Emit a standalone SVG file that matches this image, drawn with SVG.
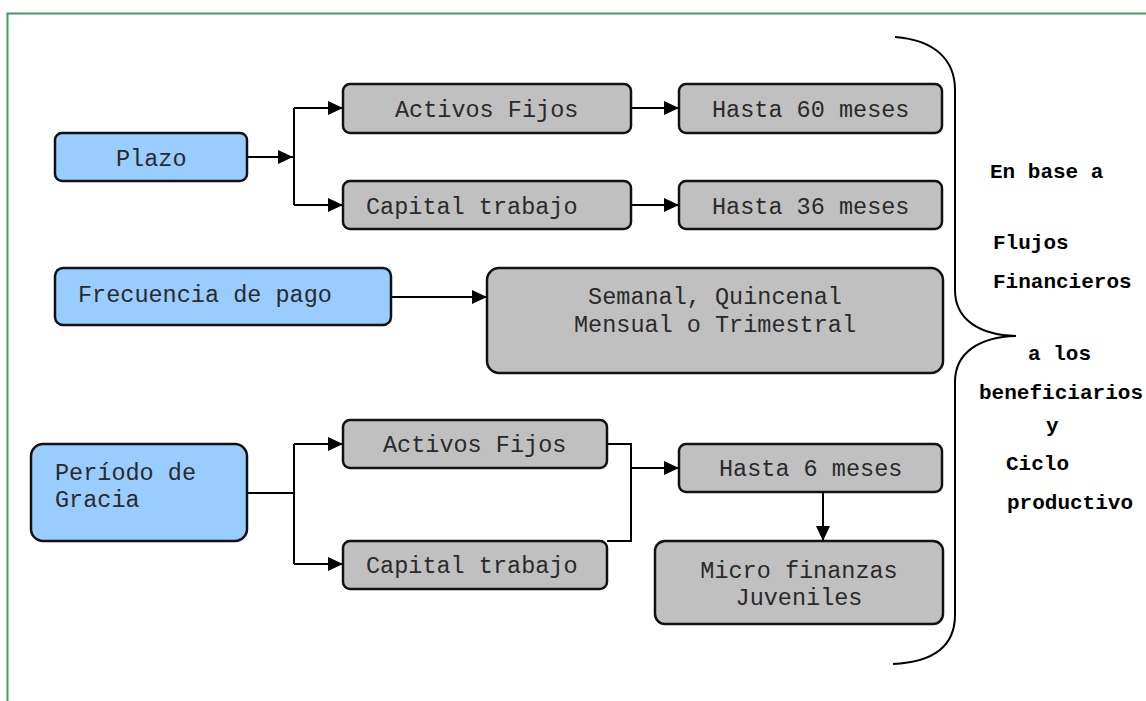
<svg xmlns="http://www.w3.org/2000/svg" width="1146" height="701" viewBox="0 0 1146 701">
<defs>
<marker id="ah" markerUnits="userSpaceOnUse" markerWidth="16" markerHeight="14" refX="15" refY="7" orient="auto">
<path d="M0,0 L15,7 L0,14 Z" fill="#000"/>
</marker>
<style>
.b{fill:#99ccff;stroke:#111;stroke-width:2.5}
.g{fill:#c0c0c0;stroke:#111;stroke-width:2.5}
.t{font-family:"Liberation Mono","Courier New",monospace;font-size:23.5px;fill:#2a2a2a}
.m{text-anchor:middle}
.r{font-family:"Liberation Mono","Courier New",monospace;font-size:21px;font-weight:bold;fill:#000}
.c{fill:none;stroke:#000;stroke-width:2}
</style>
</defs>
<rect x="7.5" y="13.5" width="1160" height="720" fill="none" stroke="#3c9c6c" stroke-width="2"/>
<g id="connectors">
<path class="c" d="M247,157 H293" marker-end="url(#ah)"/>
<path class="c" d="M294,108 V205"/>
<path class="c" d="M294,108 H343" marker-end="url(#ah)"/>
<path class="c" d="M294,205 H343" marker-end="url(#ah)"/>
<path class="c" d="M631,108 H679" marker-end="url(#ah)"/>
<path class="c" d="M631,205 H679" marker-end="url(#ah)"/>
<path class="c" d="M391,297 H487" marker-end="url(#ah)"/>
<path class="c" d="M247,493 H294"/>
<path class="c" d="M294,444 V564"/>
<path class="c" d="M294,444 H343" marker-end="url(#ah)"/>
<path class="c" d="M294,564 H343" marker-end="url(#ah)"/>
<path class="c" d="M607,444 H631 V541 H607"/>
<path class="c" d="M631,468 H679" marker-end="url(#ah)"/>
<path class="c" d="M823,492 V541" marker-end="url(#ah)"/>
</g>
<g id="plazo"><rect class="b" x="55" y="133" width="192" height="48" rx="7"/><text class="t" x="116" y="166">Plazo</text></g>
<g id="activos1"><rect class="g" x="343" y="84" width="288" height="49" rx="7"/><text class="t" x="395" y="117">Activos Fijos</text></g>
<g id="hasta60"><rect class="g" x="679" y="84" width="263" height="49" rx="7"/><text class="t" x="712" y="117">Hasta 60 meses</text></g>
<g id="capital1"><rect class="g" x="343" y="181" width="288" height="48" rx="7"/><text class="t" x="366" y="214">Capital trabajo</text></g>
<g id="hasta36"><rect class="g" x="679" y="181" width="263" height="48" rx="7"/><text class="t" x="712" y="214">Hasta 36 meses</text></g>
<g id="frecuencia"><rect class="b" x="55" y="268" width="336" height="57" rx="8"/><text class="t" x="78" y="302">Frecuencia de pago</text></g>
<g id="semanal"><rect class="g" x="487" y="268" width="456" height="105" rx="12"/><text class="t m" x="715" y="304">Semanal, Quincenal</text><text class="t m" x="715" y="332">Mensual o Trimestral</text></g>
<g id="periodo"><rect class="b" x="31" y="444" width="216" height="97" rx="12"/><text class="t" x="55" y="480">Período de</text><text class="t" x="55" y="507">Gracia</text></g>
<g id="activos2"><rect class="g" x="343" y="420" width="264" height="48" rx="7"/><text class="t" x="383" y="452">Activos Fijos</text></g>
<g id="capital2"><rect class="g" x="343" y="541" width="264" height="48" rx="7"/><text class="t" x="366" y="573">Capital trabajo</text></g>
<g id="hasta6"><rect class="g" x="679" y="444" width="263" height="48" rx="7"/><text class="t" x="719" y="476">Hasta 6 meses</text></g>
<g id="micro"><rect class="g" x="655" y="541" width="288" height="83" rx="10"/><text class="t m" x="799" y="578">Micro finanzas</text><text class="t m" x="799" y="605">Juveniles</text></g>
<g id="brace">
<path class="c" d="M895,37 C935,40 955,60 955,90 L955,290 C955,320 980,335 1016,336 C980,337 955,352 955,382 L955,615 C955,645 935,662 893,664"/>
</g>
<g id="side-text">
<text class="r" x="990" y="178">En base a</text>
<text class="r" x="993" y="249">Flujos</text>
<text class="r" x="993" y="288">Financieros</text>
<text class="r" x="1028" y="360">a los</text>
<text class="r" x="979" y="399" textLength="164" lengthAdjust="spacingAndGlyphs">beneficiarios</text>
<text class="r" x="1046" y="432">y</text>
<text class="r" x="1006" y="470">Ciclo</text>
<text class="r" x="1007" y="509">productivo</text>
</g>
</svg>
